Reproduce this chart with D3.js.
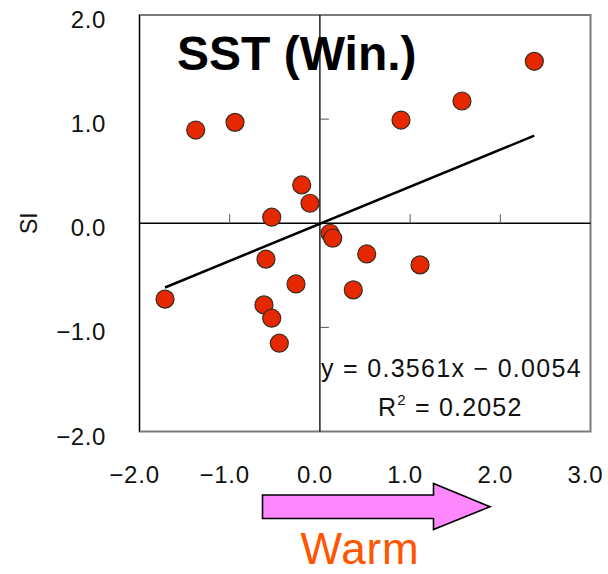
<!DOCTYPE html>
<html>
<head>
<meta charset="utf-8">
<script src="https://cdn.jsdelivr.net/npm/d3@7"></script>
<style>
  body { margin: 0; background: #fff; }
  text { font-family: "Liberation Sans", Arial, sans-serif; }
</style>
</head>
<body>
<div id="vis"></div>
<script>
// SST anomaly (winter) vs SI
const sstX = [-1.377, -0.941, -0.202, -0.110, -0.534, 0.899, 1.575, 2.377, 0.112, 0.142,
              -1.717, -0.598, -0.265, -0.620, -0.534, -0.450, 0.519, 1.110, 0.370];
const siY  = [0.895, 0.969, 0.368, 0.192, 0.058, 0.991, 1.174, 1.555, -0.096, -0.144,
              -0.729, -0.345, -0.583, -0.784, -0.912, -1.152, -0.295, -0.400, -0.640];

const xTicks = [-2, -1, 0, 1, 2, 3];
const yTicks = [-2, -1, 0, 1, 2];
const slope = 0.3561, intercept = -0.0054, r2 = 0.2052;

const W = 608, H = 574;
const plot = { left: 139.5, right: 590.5, top: 15, bottom: 431.5 };

const svg = d3.select("#vis").append("svg")
  .attr("width", W).attr("height", H)
  .style("display", "block");

const x = d3.scaleLinear().domain([-2, 3]).range([plot.left, plot.right]);
const y = d3.scaleLinear().domain([-2, 2]).range([plot.bottom, plot.top]);

// frame
svg.append("rect")
  .attr("x", plot.left).attr("y", plot.top)
  .attr("width", plot.right - plot.left).attr("height", plot.bottom - plot.top)
  .attr("fill", "#fff").attr("stroke", "#7a7a7a").attr("stroke-width", 2);
svg.append("line")
  .attr("x1", plot.left).attr("x2", plot.left)
  .attr("y1", plot.top).attr("y2", plot.bottom)
  .attr("stroke", "#000").attr("stroke-width", 1);

// axes crossing at zero
svg.append("line")
  .attr("x1", plot.left).attr("x2", plot.right)
  .attr("y1", y(0)).attr("y2", y(0))
  .attr("stroke", "#000").attr("stroke-width", 1.3);
svg.append("line")
  .attr("x1", x(0)).attr("x2", x(0))
  .attr("y1", plot.top).attr("y2", plot.bottom)
  .attr("stroke", "#000").attr("stroke-width", 1.3);

// tick marks on the zero axes
svg.append("g").selectAll("line")
  .data(xTicks.filter(d => d !== 0 && d !== -2 && d !== 3))
  .join("line")
  .attr("x1", d => x(d)).attr("x2", d => x(d))
  .attr("y1", y(0)).attr("y2", y(0) - 9)
  .attr("stroke", "#555").attr("stroke-width", 1);
svg.append("g").selectAll("line")
  .data(yTicks.filter(d => d !== 0 && Math.abs(d) !== 2))
  .join("line")
  .attr("x1", x(0)).attr("x2", x(0) + 9)
  .attr("y1", d => y(d)).attr("y2", d => y(d))
  .attr("stroke", "#555").attr("stroke-width", 1);

const fmt = d => (d < 0 ? "\u2212" : "") + Math.abs(d).toFixed(1);

// tick labels
svg.append("g").selectAll("text")
  .data(yTicks)
  .join("text")
  .attr("x", 106)
  .attr("y", d => y(d) + 13)
  .attr("text-anchor", "end")
  .attr("font-size", 24)
  .attr("letter-spacing", 0.6)
  .attr("fill", "#111")
  .text(fmt);
svg.append("g").selectAll("text")
  .data(xTicks)
  .join("text")
  .attr("x", d => x(d) - 5)
  .attr("y", 483)
  .attr("text-anchor", "middle")
  .attr("font-size", 24)
  .attr("letter-spacing", 0.8)
  .attr("fill", "#111")
  .text(fmt);

// y axis title
svg.append("text")
  .attr("transform", `translate(37,${y(0)}) rotate(-90)`)
  .attr("text-anchor", "middle")
  .attr("font-size", 23)
  .attr("fill", "#111")
  .text("SI");

// regression line over data range
const [xMin, xMax] = d3.extent(sstX);
svg.append("line")
  .attr("x1", x(xMin)).attr("y1", y(slope * xMin + intercept))
  .attr("x2", x(xMax)).attr("y2", y(slope * xMax + intercept))
  .attr("stroke", "#000").attr("stroke-width", 2.5);

// points
svg.append("g").selectAll("circle")
  .data(sstX.map((v, i) => [v, siY[i]]))
  .join("circle")
  .attr("cx", d => x(d[0])).attr("cy", d => y(d[1]))
  .attr("r", 9)
  .attr("fill", "#e62800")
  .attr("stroke", "#3a2a20").attr("stroke-width", 1.2);

// title
svg.append("text")
  .attr("x", 177).attr("y", 70)
  .attr("font-size", 48).attr("font-weight", "bold")
  .attr("fill", "#000")
  .text("SST (Win.)");

// equation
svg.append("text")
  .attr("x", 321).attr("y", 377)
  .attr("font-size", 25).attr("letter-spacing", 1.3)
  .attr("fill", "#111")
  .text(`y = ${slope}x \u2212 ${Math.abs(intercept).toFixed(4)}`);
const r2t = svg.append("text")
  .attr("x", 378).attr("y", 416)
  .attr("font-size", 25).attr("letter-spacing", 1.2)
  .attr("fill", "#111");
r2t.append("tspan").text("R");
r2t.append("tspan").attr("font-size", 15).attr("dy", -11).text("2");
r2t.append("tspan").attr("dy", 11).text(` = ${r2.toFixed(4)}`);

// warm arrow
const arrow = [[262.5, 495], [433.5, 495], [433.5, 483.5], [490, 506.7],
               [433.5, 529.5], [433.5, 518.5], [262.5, 518.5]];
svg.append("path")
  .attr("d", d3.line()(arrow) + "Z")
  .attr("fill", "#ff88ff").attr("stroke", "#000").attr("stroke-width", 1.6);

svg.append("text")
  .attr("x", 360).attr("y", 564)
  .attr("text-anchor", "middle")
  .attr("font-size", 44)
  .attr("letter-spacing", 0.8)
  .attr("fill", "#ff5500")
  .text("Warm");
</script>
</body>
</html>
